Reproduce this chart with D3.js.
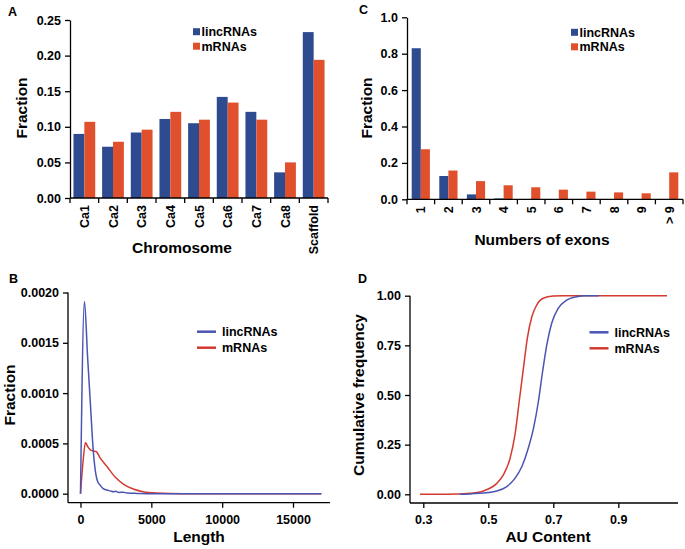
<!DOCTYPE html>
<html><head><meta charset="utf-8">
<script src="https://cdn.jsdelivr.net/npm/d3@7"></script>
<style>
html,body{margin:0;padding:0;background:#fff;}
svg text{font-family:"Liberation Sans",Arial,sans-serif;font-weight:bold;fill:#000;}
</style></head>
<body>
<svg id="chart" width="685" height="549"></svg>
<script>
// ---------- Data ----------
const chromosomes = ["Ca1","Ca2","Ca3","Ca4","Ca5","Ca6","Ca7","Ca8","Scaffold"];
const chromLinc = [0.090,0.072,0.092,0.111,0.105,0.142,0.121,0.036,0.233];
const chromMrna = [0.107,0.079,0.096,0.121,0.110,0.134,0.110,0.050,0.194];

const exonCats = ["1","2","3","4","5","6","7","8","9","> 9"];
const exonLinc = [0.83,0.128,0.027,0.005,0,0,0,0,0,0];
const exonMrna = [0.275,0.158,0.100,0.077,0.066,0.053,0.042,0.038,0.033,0.148];

const lenLincX = [0,279,500,700,905,1095,1214,1380,1600,1857,2100,2333,2500,2700,3000,3285,4000,5000,17000];
const lenLincY = [0,0.00191,0.00136,0.00089,0.00042,0.000185,0.00012,0.000086,0.00005,0.000036,0.000028,0.00002,0.000025,0.000012,0.000015,0.000006,0.000003,0,0];
const lenMrnaX = [0,200,349,500,700,900,1100,1395,1860,2442,3023,3721,4419,5349,7209,17000];
const lenMrnaY = [0,0.00035,0.00051,0.00047,0.000435,0.000425,0.00042,0.000354,0.000272,0.000166,0.000096,0.000046,0.00002,0.000007,0,0];

const auMrnaX = [0.29,0.35,0.40,0.444,0.485,0.526,0.546,0.567,0.582,0.595,0.608,0.620,0.634,0.649,0.669,0.700,0.730,1.05];
const auMrnaY = [0,0,0.001,0.005,0.017,0.055,0.097,0.181,0.299,0.466,0.634,0.785,0.894,0.953,0.987,0.998,1,1];
const auLincX = [0.413,0.45,0.485,0.526,0.557,0.582,0.603,0.623,0.639,0.654,0.667,0.680,0.695,0.715,0.741,0.772,0.80,0.84];
const auLincY = [0,0.003,0.007,0.017,0.039,0.08,0.139,0.232,0.332,0.466,0.617,0.752,0.861,0.936,0.978,0.995,1,1];

const seriesNames = ["lincRNAs","mRNAs"];
const barColors = ["#2f4b8f","#e1502d"];
const lineColors = ["#4a55b3","#d33a30"];

const svg = d3.select("#chart");
const FS_TICK = 12.5, FS_TITLE = 15.5;

function letter(t,x,y){ svg.append("text").attr("x",x).attr("y",y).attr("font-size",12.5).text(t); }
function styleAxis(g){ g.selectAll("path,line").attr("stroke","#000").attr("stroke-width",1.3);
  g.selectAll("text").attr("font-size",FS_TICK).attr("font-family","Liberation Sans, Arial, sans-serif").attr("font-weight","bold").attr("fill","#000"); }

// ---------- Bar panel helper ----------
function barPanel(cfg){
  const x = d3.scaleBand().domain(cfg.cats).range([cfg.x0,cfg.x1]).paddingInner(cfg.pin).paddingOuter(cfg.pin/2);
  const xs = d3.scaleBand().domain(seriesNames).range([0,x.bandwidth()]);
  const y = d3.scaleLinear().domain([0,cfg.ymax]).range([cfg.y0,cfg.y1]);
  const g = svg.append("g");
  cfg.cats.forEach((c,i)=>{
    [cfg.a[i],cfg.b[i]].forEach((v,j)=>{
      g.append("rect").attr("x",x(c)+xs(seriesNames[j])).attr("width",xs.bandwidth())
        .attr("y",y(v)).attr("height",cfg.y0-y(v)).attr("fill",barColors[j]);
    });
  });
  // y axis
  const ya = svg.append("g").attr("transform",`translate(${cfg.x0},0)`)
    .call(d3.axisLeft(y).tickValues(cfg.yticks).tickFormat(cfg.yfmt).tickSize(5).tickSizeOuter(0).tickPadding(4));
  styleAxis(ya);
  // x axis line + boundary ticks
  const step = x.step();
  svg.append("line").attr("x1",cfg.x0).attr("x2",cfg.x1).attr("y1",cfg.y0).attr("y2",cfg.y0).attr("stroke","#000").attr("stroke-width",1.3);
  const bounds = cfg.cats.map(c=>x(c)-step*cfg.pin/2).concat([cfg.x1]);
  bounds.forEach(b=>svg.append("line").attr("x1",b).attr("x2",b).attr("y1",cfg.y0).attr("y2",cfg.y0+5).attr("stroke","#000").attr("stroke-width",1.3));
  cfg.cats.forEach(c=>{
    const cx = x(c)+x.bandwidth()/2;
    svg.append("text").attr("transform",`translate(${cx+4.5},${cfg.y0+7}) rotate(-90)`)
      .attr("text-anchor","end").attr("font-size",FS_TICK).text(c);
  });
  // legend
  seriesNames.forEach((n,j)=>{
    svg.append("rect").attr("x",cfg.lx).attr("y",cfg.ly+j*14.5-3.5).attr("width",7).attr("height",7).attr("fill",barColors[j]);
    svg.append("text").attr("x",cfg.lx+8.5).attr("y",cfg.ly+j*14.5+4.5).attr("font-size",12.5).text(n);
  });
  svg.append("text").attr("transform",`translate(${cfg.ytx},${cfg.yty}) rotate(-90)`).attr("text-anchor","middle").attr("font-size",FS_TITLE).text("Fraction");
  svg.append("text").attr("x",cfg.xtx).attr("y",cfg.xty).attr("text-anchor","middle").attr("font-size",FS_TITLE).text(cfg.xtitle);
}

barPanel({cats:chromosomes,a:chromLinc,b:chromMrna,x0:70,x1:328,y0:198,y1:20,ymax:0.25,pin:0.24,
  yticks:[0,0.05,0.1,0.15,0.2,0.25],yfmt:d3.format(".2f"),lx:193,ly:31.7,ytx:27,yty:108,xtx:182,xty:253,xtitle:"Chromosome"});
barPanel({cats:exonCats,a:exonLinc,b:exonMrna,x0:407,x1:683,y0:199.3,y1:17.3,ymax:1.0,pin:0.34,
  yticks:[0,0.2,0.4,0.6,0.8,1.0],yfmt:d3.format(".1f"),lx:571,ly:32.3,ytx:372,yty:108,xtx:542,xty:245,xtitle:"Numbers of exons"});

// ---------- Line panel helper ----------
function linePanel(cfg){
  const x = d3.scaleLinear().domain(cfg.xd).range(cfg.xr);
  const y = d3.scaleLinear().domain(cfg.yd).range(cfg.yr);
  const line = d3.line().x(d=>x(d[0])).y(d=>y(d[1])).curve(d3.curveMonotoneX);
  // draw mRNA first then lincRNA on top
  [[cfg.mx,cfg.my,1],[cfg.lxs,cfg.lys,0]].forEach(([xs,ys,j])=>{
    svg.append("path").datum(xs.map((v,i)=>[v,ys[i]])).attr("d",line)
      .attr("fill","none").attr("stroke",lineColors[j]).attr("stroke-width",1.5);
  });
  const ya = svg.append("g").attr("transform",`translate(${cfg.ax},0)`)
    .call(d3.axisLeft(y).tickValues(cfg.yticks).tickFormat(cfg.yfmt).tickSize(5).tickSizeOuter(0).tickPadding(4));
  styleAxis(ya);
  ya.select(".domain").attr("d",`M0,${cfg.yr[1]}V${cfg.ay}`);
  const xa = svg.append("g").attr("transform",`translate(0,${cfg.ay})`)
    .call(d3.axisBottom(x).tickValues(cfg.xticks).tickFormat(cfg.xfmt).tickSize(5).tickSizeOuter(0).tickPadding(7));
  styleAxis(xa);
  xa.select(".domain").attr("d",`M${cfg.ax},0H${cfg.axEnd}`);
  seriesNames.forEach((n,j)=>{
    svg.append("line").attr("x1",cfg.legx).attr("x2",cfg.legx+19).attr("y1",cfg.legy+j*16).attr("y2",cfg.legy+j*16)
      .attr("stroke",lineColors[j]).attr("stroke-width",2.5);
    svg.append("text").attr("x",cfg.legx+25).attr("y",cfg.legy+j*16+4.5).attr("font-size",12.5).text(n);
  });
  svg.append("text").attr("transform",`translate(${cfg.ytx},${cfg.yty}) rotate(-90)`).attr("text-anchor","middle").attr("font-size",FS_TITLE).text(cfg.ytitle);
  svg.append("text").attr("x",cfg.xtx).attr("y",cfg.xty).attr("text-anchor","middle").attr("font-size",FS_TITLE).text(cfg.xtitle);
}

linePanel({xd:[0,15000],xr:[80.5,293],yd:[0,0.002],yr:[493.7,292.5],ax:68,ay:502.7,axEnd:330,
  mx:lenMrnaX,my:lenMrnaY,lxs:lenLincX,lys:lenLincY,
  yticks:[0,0.0005,0.001,0.0015,0.002],yfmt:d3.format(".4f"),xticks:[0,5000,10000,15000],xfmt:d3.format("d"),
  legx:197,legy:331.7,ytx:15,yty:395,xtx:199,xty:541.5,ytitle:"Fraction",xtitle:"Length"});
linePanel({xd:[0.3,0.9],xr:[423.3,618.3],yd:[0,1],yr:[494.3,295.7],ax:410,ay:503,axEnd:678,
  mx:auMrnaX,my:auMrnaY,lxs:auLincX,lys:auLincY,
  yticks:[0,0.25,0.5,0.75,1],yfmt:d3.format(".2f"),xticks:[0.3,0.5,0.7,0.9],xfmt:d3.format(".1f"),
  legx:589.5,legy:332.3,ytx:364,yty:395,xtx:548,xty:541.5,ytitle:"Cumulative frequency",xtitle:"AU Content"});

letter("A",8,16); letter("C",359,13.5); letter("B",9,283); letter("D",358,283);
</script>
</body></html>
